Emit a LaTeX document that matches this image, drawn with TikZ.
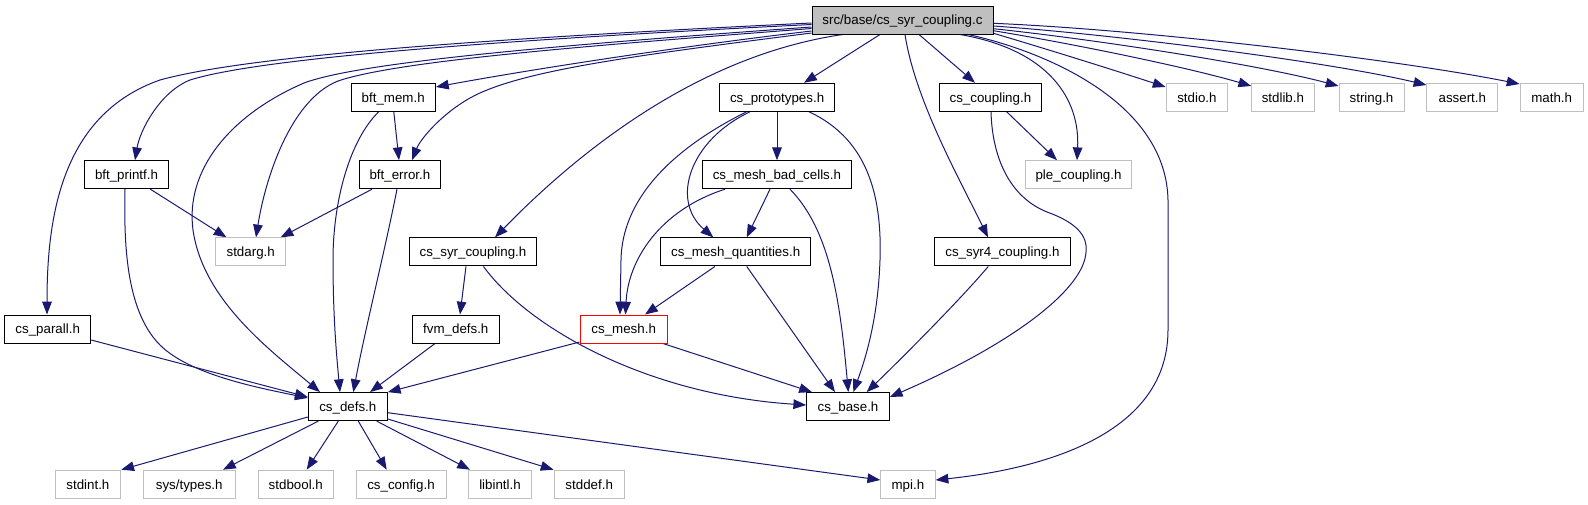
\documentclass[tikz,border=0pt]{standalone}
\usepackage{fontspec}
\setmainfont{Liberation Sans}
\usetikzlibrary{arrows.meta}
\definecolor{edgec}{HTML}{191970}
\definecolor{grayb}{HTML}{BFBFBF}
\pgfdeclarelayer{bg}
\pgfsetlayers{bg,main}
\newcommand{\nd}[6]{\node[#5, minimum width=#4*0.75pt] (#1) at (#2,#3) {#6};}
\begin{document}
\begin{tikzpicture}[x=0.75pt,y=-0.75pt,
  nb/.style={draw=black, line width=0.75pt, minimum height=21pt, inner sep=0pt, text height=7.4pt, text depth=0pt, font=\fontsize{10}{12}\selectfont, fill=white},
  ng/.style={nb, draw=grayb},
  nm/.style={nb, fill=grayb},
  nr/.style={nb, draw=red},
  edg/.style={draw=edgec, line width=0.75pt, -{Triangle[length=9.6pt,width=7.2pt]}}]
\useasboundingbox (0,0) rectangle (1588,504);
\nd{main}{902.5}{20}{181}{nm}{src/base/cs\_syr\_coupling.c}
\nd{bmem}{393.2}{97.3}{84.4}{nb}{bft\_mem.h}
\nd{proto}{777.1}{97.3}{114.6}{nb}{cs\_prototypes.h}
\nd{coup}{990.4}{97.3}{102.7}{nb}{cs\_coupling.h}
\nd{stdio}{1196.9}{97.3}{61.7}{ng}{stdio.h}
\nd{stdlib}{1282.9}{97.3}{62.3}{ng}{stdlib.h}
\nd{string}{1371.5}{97.3}{65}{ng}{string.h}
\nd{assert}{1462.3}{97.3}{70.7}{ng}{assert.h}
\nd{math}{1551.7}{97.3}{63.3}{ng}{math.h}
\nd{bprintf}{126.5}{174.7}{83.9}{nb}{bft\_printf.h}
\nd{berror}{399.9}{174.7}{81.8}{nb}{bft\_error.h}
\nd{badc}{776.9}{174.7}{148.3}{nb}{cs\_mesh\_bad\_cells.h}
\nd{ple}{1078.5}{174.7}{105.6}{ng}{ple\_coupling.h}
\nd{stdarg}{250.7}{251.9}{70}{ng}{stdarg.h}
\nd{syrh}{473}{251.9}{126.5}{nb}{cs\_syr\_coupling.h}
\nd{meshq}{735.7}{251.9}{150}{nb}{cs\_mesh\_quantities.h}
\nd{syr4}{1002.4}{251.9}{135.3}{nb}{cs\_syr4\_coupling.h}
\nd{parall}{47.7}{329}{86}{nb}{cs\_parall.h}
\nd{fvm}{455.8}{329}{87}{nb}{fvm\_defs.h}
\nd{mesh}{623.7}{329}{87.3}{nr}{cs\_mesh.h}
\nd{defs}{347.8}{406.6}{79}{nb}{cs\_defs.h}
\nd{base}{848}{406.6}{82.6}{nb}{cs\_base.h}
\nd{stdint}{87.9}{484.2}{65.7}{ng}{stdint.h}
\nd{systypes}{189.2}{484.2}{91.7}{ng}{sys/types.h}
\nd{stdbool}{295.8}{484.2}{75}{ng}{stdbool.h}
\nd{config}{401}{484.2}{90}{ng}{cs\_config.h}
\nd{libintl}{500}{484.2}{63.4}{ng}{libintl.h}
\nd{stddef}{589.2}{484.2}{70.3}{ng}{stddef.h}
\nd{mpi}{907.9}{484.2}{54.3}{ng}{mpi.h}
\begin{pgfonlayer}{bg}
% from main, leftwards
\draw[edg] (main.west |- 0,23) .. controls (500,38) and (250,55) .. (160,80)
  .. controls (60,115) and (47,220) .. (parall.north -| 47,0);
\draw[edg] (main.west |- 0,24.5) .. controls (500,40) and (260,58) .. (190,80)
  .. controls (160,92) and (140,130) .. (bprintf.north -| 135,0);
\draw[edg] (main.west |- 0,27) .. controls (560,45) and (360,62) .. (304,83)
  .. controls (230,115) and (185,170) .. (193,230)
  .. controls (203,300) and (270,350) .. (defs.north -| 320,0);
\draw[edg] (main.west |- 0,28.5) .. controls (600,45) and (400,60) .. (338,81)
  .. controls (290,100) and (265,180) .. (stdarg.north -| 256,0);
\draw[edg] (main.west |- 0,31) .. controls (650,50) and (500,75) .. (bmem.east |- 0,87);
\draw[edg] (main.west |- 0,33) .. controls (640,55) and (520,70) .. (470,98)
  .. controls (440,115) and (420,140) .. (berror.north -| 412,0);
% from main, downwards
\draw[edg] (main.south -| 843,0) .. controls (700,55) and (580,150) .. (syrh.north -| 495,0);
\draw[edg] (main.south -| 880,0) -- (proto.north -| 804,0);
\draw[edg] (main.south -| 905,0) .. controls (915,100) and (960,180) .. (syr4.north -| 988,0);
\draw[edg] (main.south -| 919,0) -- (coup.north -| 975,0);
\draw[edg] (main.south -| 960,0) .. controls (1050,50) and (1080,100) .. (ple.north -| 1077,0);
\draw[edg] (main.south -| 968,0) .. controls (1040,50) and (1166,100) .. (1168,200)
  -- (1168,330) .. controls (1168,440) and (1030,470) .. (mpi.east |- 0,480);
% from main, rightwards
\draw[edg] (main.east |- 0,23.3) .. controls (1150,30) and (1400,60) .. (math.west |- 0,84);
\draw[edg] (main.east |- 0,26) .. controls (1120,35) and (1330,62) .. (assert.west |- 0,85);
\draw[edg] (main.east |- 0,28.7) .. controls (1100,40) and (1260,65) .. (string.west |- 0,86);
\draw[edg] (main.east |- 0,30.7) .. controls (1080,45) and (1190,68) .. (stdlib.west |- 0,86);
\draw[edg] (main.east |- 0,33.3) .. controls (1050,50) and (1120,72) .. (stdio.west |- 0,87);
% bft
\draw[edg] (bmem.south -| 393.8,0) -- (berror.north -| 399,0);
\draw[edg] (bmem.south -| 378.6,0) .. controls (350,140) and (333,200) .. (333,260)
  .. controls (333,320) and (337,360) .. (defs.north -| 340,0);
\draw[edg] (bprintf.south -| 150.4,0) -- (stdarg.north -| 226.5,0);
\draw[edg] (bprintf.south -| 125,0) .. controls (124,240) and (125,310) .. (160,345)
  .. controls (190,375) and (260,388) .. (defs.west |- 0,398);
\draw[edg] (berror.south -| 372,0) -- (stdarg.north -| 280.6,0);
\draw[edg] (berror.south -| 397,0) .. controls (385,250) and (365,330) .. (defs.north -| 353.3,0);
\draw[edg] (parall.east |- 0,340) -- (defs.west |- 0,397);
% syr coupling
\draw[edg] (syrh.south -| 466,0) -- (fvm.north -| 460,0);
\draw[edg] (syrh.south -| 483.4,0) .. controls (530,330) and (650,395) .. (base.west |- 0,405);
\draw[edg] (fvm.south -| 435,0) -- (defs.north -| 370,0);
% prototypes
\draw[edg] (proto.south -| 777,0) -- (badc.north -| 777,0);
\draw[edg] (proto.south -| 750,0) .. controls (690,140) and (670,200) .. (meshq.north -| 713.3,0);
\draw[edg] (proto.south -| 746.5,0) .. controls (670,150) and (622,200) .. (621,260)
  -- (mesh.north -| 620,0);
\draw[edg] (proto.south -| 809,0) .. controls (870,140) and (882,200) .. (880,260)
  .. controls (878,320) and (865,360) .. (base.north -| 853.3,0);
% bad cells
\draw[edg] (badc.south -| 770,0) -- (meshq.north -| 746.7,0);
\draw[edg] (badc.south -| 725,0) .. controls (660,210) and (628,260) .. (mesh.north -| 625.5,0);
\draw[edg] (badc.south -| 790,0) .. controls (830,230) and (840,300) .. (base.north -| 848.3,0);
% quantities
\draw[edg] (meshq.south -| 715,0) -- (mesh.north -| 645,0);
\draw[edg] (meshq.south -| 746.7,0) -- (base.north -| 835,0);
% syr4
\draw[edg] (syr4.south -| 988.3,0) .. controls (960,300) and (900,360) .. (base.north -| 866.7,0);
% mesh
\draw[edg] (mesh.west |- 0,342) -- (defs.north east);
\draw[edg] (mesh.south -| 663,0) -- (base.north -| 812,0);
% coupling
\draw[edg] (coup.south -| 1006.7,0) -- (ple.north -| 1057,0);
\draw[edg] (coup.south -| 991,0) .. controls (992,150) and (1005,195) .. (1047,212)
  .. controls (1075,222) and (1088,235) .. (1086,252)
  .. controls (1084,290) and (1010,345) .. (base.east |- 0,397);
% cs_defs
\draw[edg] (defs.west |- 0,417) -- (stdint.north east);
\draw[edg] (defs.south -| 318.3,0) -- (systypes.north -| 223,0);
\draw[edg] (defs.south -| 338.3,0) -- (stdbool.north -| 306.7,0);
\draw[edg] (defs.south -| 358.3,0) -- (config.north -| 386.7,0);
\draw[edg] (defs.south -| 376.7,0) -- (libintl.north -| 470,0);
\draw[edg] (defs.east |- 0,419) -- (stddef.north west);
\draw[edg] (defs.east |- 0,412.7) -- (mpi.west |- 0,480);
\end{pgfonlayer}
\end{tikzpicture}
\end{document}
